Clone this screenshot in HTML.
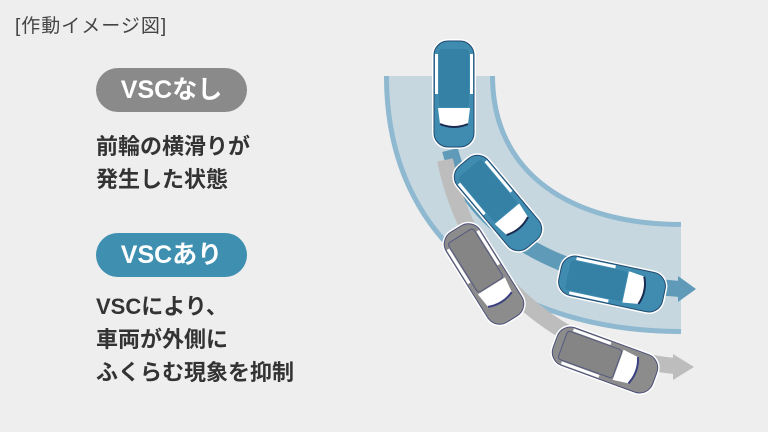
<!DOCTYPE html>
<html><head><meta charset="utf-8"><style>
body{margin:0;width:768px;height:432px;background:#eeeeee;overflow:hidden;position:relative;font-family:"Liberation Sans","Noto Sans CJK JP",sans-serif;}
.t{position:absolute;left:15px;top:11px;font-size:19px;color:#444;letter-spacing:1px;}
.pill{position:absolute;left:96px;width:151px;height:44px;border-radius:22px;color:#fff;font-size:25px;font-weight:bold;text-align:center;line-height:44px;}
.txt{position:absolute;left:96px;font-size:22px;font-weight:bold;color:#333;line-height:33px;}
</style></head><body>
<div class="t">[作動イメージ図]</div>
<div class="pill" style="top:68px;background:#8a8a8a">VSCなし</div>
<div class="txt" style="top:130px">前輪の横滑りが<br>発生した状態</div>
<div class="pill" style="top:233px;background:#3e8fb0">VSCあり</div>
<div class="txt" style="top:290px">VSCにより、<br>車両が外側に<br>ふくらむ現象を抑制</div>
<svg width="768" height="432" style="position:absolute;left:0;top:0">
<defs>
<g id="carB">
<rect x="-22" y="-55" width="44" height="110" rx="16" fill="#fff"/>
<rect x="-20" y="-53" width="40" height="106" rx="14" fill="#3f8cb0" stroke="#1f4a70" stroke-width="1"/>
<rect x="-15" y="-45" width="30" height="58" rx="3" fill="#3580a5"/>
<path d="M-16 14 L16 14 L14 30 Q0 34 -14 30 Z" fill="#fff"/>
<path d="M-14 30 Q0 36 14 30" stroke="#1a2a50" stroke-width="2" fill="none"/>
<rect x="-19" y="-40" width="3" height="40" fill="#fff"/>
<rect x="16" y="-40" width="3" height="40" fill="#fff"/>
</g>
<g id="carG">
<rect x="-22" y="-55" width="44" height="110" rx="16" fill="#fff"/>
<rect x="-20" y="-53" width="40" height="106" rx="14" fill="#8c8c8c" stroke="#4a4f78" stroke-width="1"/>
<rect x="-15" y="-45" width="30" height="58" rx="3" fill="#858585" stroke="#555a80" stroke-width="1"/>
<path d="M-16 14 L16 14 L14 30 Q0 34 -14 30 Z" fill="#fff"/>
<path d="M-14 30 Q0 36 14 30" stroke="#3a4080" stroke-width="2" fill="none"/>
<rect x="-19" y="-40" width="3" height="40" fill="#fff"/>
<rect x="16" y="-40" width="3" height="40" fill="#fff"/>
</g>
</defs>
<path d="M384 76 L495 76 C495 172 572 222 681 222 L681 334 C520 334 384 250 384 76 Z" fill="#c7d7df"/>
<path d="M386.5 76 C386.5 248 520 331.5 681 331.5" stroke="#8fb9d0" stroke-width="5" fill="none"/>
<path d="M492.5 76 C492.5 174 572 224.5 681 224.5" stroke="#8fb9d0" stroke-width="5" fill="none"/>
<path d="M450 150 C470 230 560 280 680 289" stroke="#5f9ab8" stroke-width="16" fill="none"/>
<path d="M678 276 L696 289 L678 302 Z" fill="#5f9ab8"/>
<path d="M445 160 C470 280 560 355 675 366" stroke="#bdbdbd" stroke-width="16" fill="none"/>
<path d="M673 354 L694 367 L673 380 Z" fill="#bdbdbd"/>
<use href="#carG" transform="translate(484,274) rotate(-32)"/>
<use href="#carG" transform="translate(605,360) rotate(-70)"/>
<use href="#carB" transform="translate(454,94)"/>
<use href="#carB" transform="translate(498,203) rotate(-40)"/>
<use href="#carB" transform="translate(612,284) rotate(-78)"/>
</svg>
</body></html>
